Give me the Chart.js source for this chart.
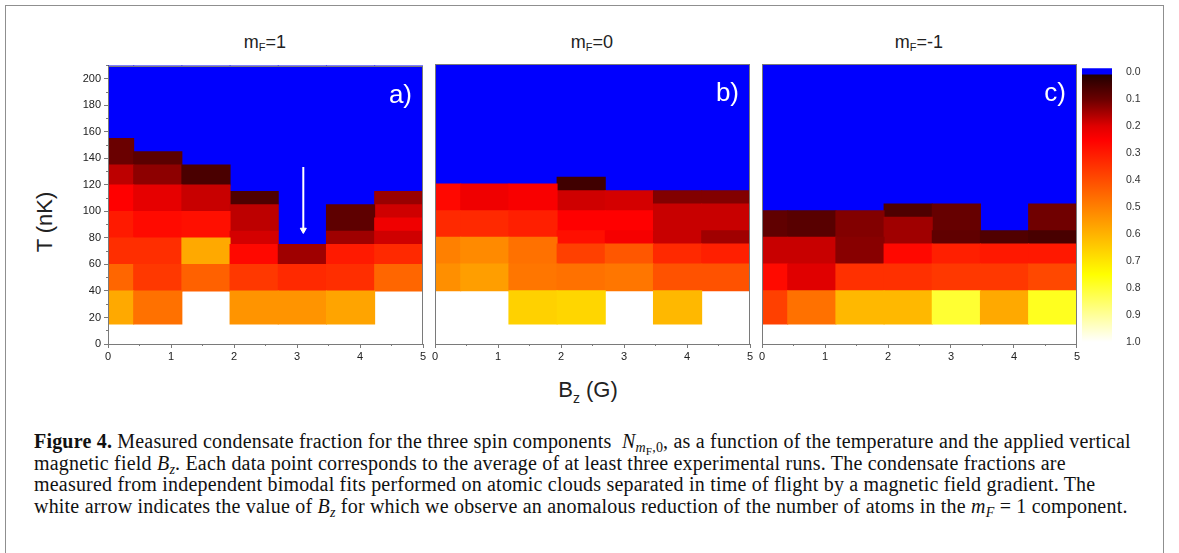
<!DOCTYPE html>
<html>
<head>
<meta charset="utf-8">
<script src="https://cdn.jsdelivr.net/npm/chart.js@4.4.1/dist/chart.umd.min.js"></script>
<style>
  html, body { margin: 0; padding: 0; background: #fff; }
  body { width: 1179px; height: 553px; position: relative; overflow: hidden;
         font-family: "Liberation Sans", Arial, sans-serif; color: #222; }
  #frame { position: absolute; left: 5px; top: 5px; width: 1159px; height: 570px;
           border: 1px solid #8f8f8f; box-sizing: border-box; }
  canvas { position: absolute; }
  .title { position: absolute; top: 32px; width: 200px; margin-left: -100px;
           text-align: center; font-size: 18px; }
  .title .s { font-size: 11px; position: relative; top: 3px; }
  #ylab { position: absolute; left: 45px; top: 222px; font-size: 22px; white-space: nowrap;
          transform: translate(-50%, -50%) rotate(-90deg); }
  #xlab { position: absolute; left: 588px; top: 390px; font-size: 22px; white-space: nowrap;
          transform: translate(-50%, -50%); }
  #xlab .s { font-size: 14px; position: relative; top: 6px; }
  #caption { position: absolute; left: 34px; top: 431px; font-family: "Liberation Serif", "Times New Roman", serif;
             font-size: 20px; letter-spacing: 0.2px; line-height: 21.7px; color: #111; white-space: nowrap; }
  #caption sub { font-size: 0.7em; line-height: 0; vertical-align: -0.25em; }
  #caption sub sub { font-size: 0.8em; }
</style>
</head>
<body>
<div id="frame"></div>

<div class="title" style="left:265px">m<span class="s">F</span>=1</div>
<div class="title" style="left:592px">m<span class="s">F</span>=0</div>
<div class="title" style="left:919px">m<span class="s">F</span>=-1</div>

<canvas id="pa" width="370" height="310" style="left:60px;top:56px"></canvas>
<canvas id="pb" width="327" height="310" style="left:430px;top:56px"></canvas>
<canvas id="pc" width="325" height="310" style="left:757px;top:56px"></canvas>
<canvas id="cbar" width="80" height="300" style="left:1078px;top:56px"></canvas>

<div id="ylab">T (nK)</div>
<div id="xlab">B<span class="s">z</span> (G)</div>

<div id="caption">
  <div><b>Figure 4.</b> Measured condensate fraction for the three spin components&nbsp; <i>N</i><sub><i>m</i><sub>F</sub>,0</sub>, as a function of the temperature and the applied vertical</div>
  <div>magnetic field <i>B<sub>z</sub></i>. Each data point corresponds to the average of at least three experimental runs. The condensate fractions are</div>
  <div>measured from independent bimodal fits performed on atomic clouds separated in time of flight by a magnetic field gradient. The</div>
  <div>white arrow indicates the value of <i>B<sub>z</sub></i> for which we observe an anomalous reduction of the number of atoms in the <i>m<sub>F</sub></i> = 1 component.</div>
</div>

<script>
// --- data: field columns (G), temperature cell edges (nK) and condensate fractions ---
const bzCenters = [0.025, 0.79, 1.555, 2.32, 3.085, 3.85, 4.615];
const tMax = 210;

// m_F = 1
const aEdges = [
  [15, 40, 60, 80, 100, 120, 135, 155],
  [15, 40, 60, 80, 100, 120, 135, 145],
  [15, 40, 60, 80, 100, 120, 135],
  [15, 40, 60, 75, 85, 105, 115],
  [15, 40, 60, 75],
  [15, 40, 60, 75, 85, 105],
  [15, 40, 60, 75, 85, 95, 105, 115]
];
const aFrac = [
  [0.58, 0.45, 0.34, 0.30, 0.25, 0.17, 0.10],
  [0.47, 0.36, 0.34, 0.27, 0.21, 0.13, 0.08],
  [null, 0.44, 0.58, 0.28, 0.18, 0.06],
  [0.54, 0.36, 0.265, 0.19, 0.17, 0.065],
  [0.54, 0.33, 0.145],
  [0.57, 0.34, 0.30, 0.145, 0.085],
  [null, 0.45, 0.33, 0.186, 0.225, 0.186, 0.14]
];

// m_F = 0
const bEdges = [
  [15, 40, 60, 80, 100, 120],
  [15, 40, 60, 80, 100, 120],
  [15, 40, 60, 80, 100, 120],
  [15, 40, 60, 75, 85, 100, 115, 125],
  [15, 40, 60, 75, 85, 100, 115],
  [15, 40, 60, 75, 85, 105, 115],
  [15, 40, 60, 75, 85, 105, 115]
];
const bFrac = [
  [null, 0.53, 0.50, 0.33, 0.265],
  [null, 0.56, 0.52, 0.33, 0.225],
  [0.66, 0.48, 0.47, 0.31, 0.24],
  [0.67, 0.47, 0.375, 0.28, 0.25, 0.186, 0.048],
  [null, 0.48, 0.42, 0.235, 0.25, 0.19],
  [0.61, 0.41, 0.33, 0.18, 0.18, 0.12],
  [null, 0.41, 0.31, 0.146, 0.18, 0.12]
];

// m_F = -1
const cEdges = [
  [15, 40, 60, 80, 100],
  [15, 40, 60, 80, 100],
  [15, 40, 60, 80, 100],
  [15, 40, 60, 75, 95, 105],
  [15, 40, 60, 75, 85, 105],
  [15, 40, 60, 75, 85],
  [15, 40, 60, 75, 85, 105]
];
const cFrac = [
  [0.375, 0.27, 0.18, 0.088],
  [0.47, 0.20, 0.18, 0.078],
  [0.61, 0.344, 0.125, 0.12],
  [0.61, 0.344, 0.265, 0.146, 0.065],
  [0.80, 0.36, 0.31, 0.088, 0.095],
  [0.58, 0.36, 0.297, 0.068],
  [0.78, 0.39, 0.297, 0.058, 0.105]
];

// white arrow in panel a
const arrowBz = 3.1;
const arrowT = [133.5, 86];

// colour scale: fraction -> rgb
const fireStops = [
  [0, 26, 0, 0], [0.1, 106, 0, 0], [0.2, 224, 0, 0], [0.25, 255, 0, 0],
  [0.5, 255, 128, 0], [0.75, 255, 255, 0], [1, 255, 255, 255]
];
const barTicks = [0, 0.1, 0.2, 0.3, 0.4, 0.5, 0.6, 0.7, 0.8, 0.9, 1.0];

function fireColor(f) {
  for (let i = 1; i < fireStops.length; i++) {
    const a = fireStops[i - 1], b = fireStops[i];
    if (f <= b[0]) {
      const t = (f - a[0]) / (b[0] - a[0]);
      const c = [1, 2, 3].map(k => Math.round(a[k] + (b[k] - a[k]) * t));
      return `rgb(${c[0]},${c[1]},${c[2]})`;
    }
  }
  return '#fff';
}

Chart.defaults.font.family = '"Liberation Sans", Arial, sans-serif';
Chart.defaults.color = '#222';

const axisGrey = '#7a7a7a';

const frameBox = {
  id: 'frameBox',
  afterDraw(chart) {
    const {ctx, chartArea: a} = chart;
    ctx.save();
    ctx.strokeStyle = axisGrey;
    ctx.lineWidth = 1;
    ctx.strokeRect(Math.round(a.left) + 0.5, Math.round(a.top) + 0.5,
                   Math.round(a.right - a.left) - 1, Math.round(a.bottom - a.top));
    ctx.restore();
  }
};

const cornerLabel = {
  id: 'cornerLabel',
  afterDatasetsDraw(chart, args, opts) {
    if (!opts.text) return;
    const {ctx, chartArea: a} = chart;
    ctx.save();
    ctx.font = '26px "Liberation Sans", Arial, sans-serif';
    ctx.fillStyle = '#fff';
    ctx.textAlign = 'right';
    ctx.fillText(opts.text, a.right - 11, a.top + 37);
    ctx.restore();
  }
};

function cellDatasets(edges, frac) {
  const rows = Math.max(...edges.map(e => e.length - 1));
  const sets = [];
  for (let j = 0; j < rows; j++) {
    sets.push({
      stack: 'cells',
      data: bzCenters.map((x, i) => ({
        x,
        y: j < edges[i].length - 1 ? [edges[i][j], edges[i][j + 1]] : null,
        f: frac[i][j]
      })),
      backgroundColor: ctx => (ctx.raw && ctx.raw.f != null) ? fireColor(ctx.raw.f) : 'rgba(0,0,0,0)'
    });
  }
  // above the last measured temperature: fraction 0 (blue)
  sets.push({
    stack: 'cells',
    data: bzCenters.map((x, i) => ({x, y: [edges[i][edges[i].length - 1], tMax]})),
    backgroundColor: '#0000fe'
  });
  return sets;
}

function makePanel(id, edges, frac, label, yWidth, padRight, showY) {
  const datasets = cellDatasets(edges, frac);
  if (label === 'a)') {
    datasets.push({
      type: 'line',
      order: -1,
      data: arrowT.map(t => ({x: arrowBz, y: t})),
      borderColor: '#fff',
      backgroundColor: '#fff',
      borderWidth: 2,
      pointRadius: [0, 3.5],
      pointBorderWidth: 1,
      pointStyle: 'triangle',
      rotation: 180
    });
  }
  return new Chart(document.getElementById(id), {
    type: 'bar',
    data: {datasets},
    plugins: [frameBox, cornerLabel],
    options: {
      responsive: false,
      animation: false,
      layout: {padding: {top: 8, right: padRight, left: 0, bottom: 0}},
      datasets: {
        bar: {
          barThickness: 'flex', barPercentage: 1, categoryPercentage: 1,
          borderWidth: 0, inflateAmount: 0.5
        }
      },
      plugins: {legend: {display: false}, tooltip: {enabled: false}, cornerLabel: {text: label}},
      scales: {
        x: {
          type: 'linear', min: 0, max: 5, position: 'bottom', weight: 1, offset: false, stacked: true,
          ticks: {stepSize: 1, font: {size: 11}, padding: 2, maxRotation: 0, color: '#222'},
          grid: {drawOnChartArea: false, offset: false, tickLength: 4, color: axisGrey},
          border: {color: axisGrey},
          afterFit: s => { s.height = 22; }
        },
        xMinor: {
          type: 'linear', min: 0, max: 5, position: 'bottom', weight: 0, offset: false,
          ticks: {display: false, stepSize: 0.5},
          grid: {drawOnChartArea: false, offset: false, tickLength: 2, color: axisGrey},
          border: {display: false},
          afterFit: s => { s.height = 0; }
        },
        y: {
          type: 'linear', min: 0, max: tMax, position: 'left', weight: 1, stacked: false,
          ticks: {display: showY, stepSize: 20, includeBounds: false, font: {size: 11}, padding: 3, color: '#222'},
          grid: {drawOnChartArea: false, drawTicks: showY, tickLength: 4, color: axisGrey},
          border: {color: axisGrey},
          afterFit: s => { s.width = yWidth; }
        },
        yMinor: {
          type: 'linear', min: 0, max: tMax, position: 'left', weight: 0,
          display: showY,
          ticks: {display: false, stepSize: 10, includeBounds: false},
          grid: {drawOnChartArea: false, tickLength: 2, color: axisGrey},
          border: {display: false},
          afterFit: s => { s.width = 0; }
        }
      }
    }
  });
}

makePanel('pa', aEdges, aFrac, 'a)', 48, 7, true);
makePanel('pb', bEdges, bFrac, 'b)', 4, 7, false);
makePanel('pc', cEdges, cFrac, 'c)', 4, 5, false);

// --- colour bar ---
const cbMin = -0.0146;
const cbBlueTop = 0.0073;
new Chart(document.getElementById('cbar'), {
  type: 'bar',
  data: {
    labels: [''],
    datasets: [
      {data: [[cbMin, cbBlueTop]], backgroundColor: '#0000fe'},
      {
        data: [[cbBlueTop, 1.0]],
        backgroundColor: ctx => {
          const chart = ctx.chart;
          if (!chart.chartArea) return '#800000';
          const ys = chart.scales.y;
          const g = chart.ctx.createLinearGradient(0, ys.getPixelForValue(0), 0, ys.getPixelForValue(1));
          fireStops.forEach(s => g.addColorStop(s[0], `rgb(${s[1]},${s[2]},${s[3]})`));
          return g;
        }
      }
    ]
  },
  options: {
    responsive: false,
    animation: false,
    layout: {padding: {top: 8, left: 4, right: 0, bottom: 14}},
    datasets: {bar: {barPercentage: 1, categoryPercentage: 1, grouped: false, borderWidth: 0}},
    plugins: {legend: {display: false}, tooltip: {enabled: false}},
    scales: {
      x: {display: false},
      y: {
        type: 'linear', position: 'right', reverse: true, min: cbMin, max: 1.0,
        afterBuildTicks: s => { s.ticks = barTicks.map(v => ({value: v})); },
        ticks: {callback: v => v.toFixed(1), font: {size: 10.5}, padding: 6, color: '#333'},
        grid: {display: false},
        border: {display: false},
        afterFit: s => { s.width = 46; }
      }
    }
  }
});
</script>
</body>
</html>
